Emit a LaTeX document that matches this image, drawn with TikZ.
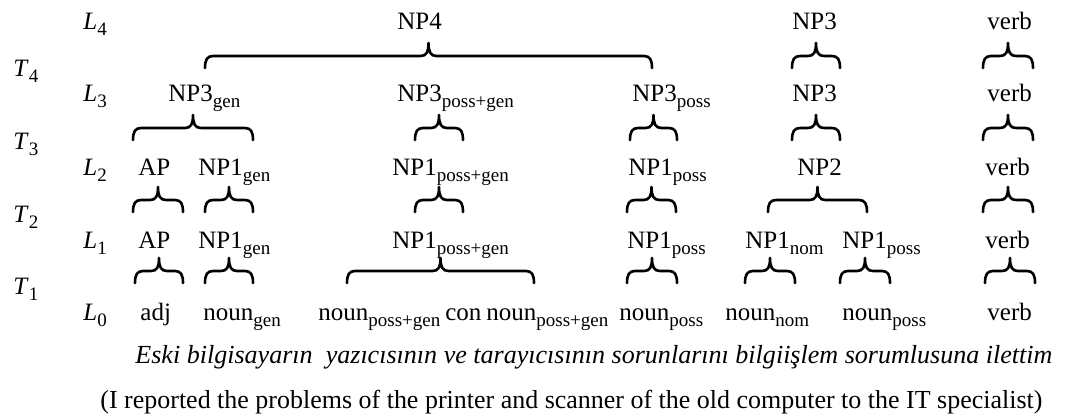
\documentclass[tikz,border=0pt]{standalone}
\usepackage{fontspec}
\setmainfont{Liberation Serif}
% lowered, smaller subscript used for category features
\newcommand{\lsub}[1]{\raisebox{-3pt}{\fontsize{9.5}{11}\selectfont #1}}
% level / transition labels such as L_4, T_1
\newcommand{\lvl}[2]{\textit{#1}\lsub{#2}}
% a brace with ends at height #3, spanning #1..#2, tip pointing up
\newcommand{\brc}[3]{%
  \pgfmathsetmacro\bm{(#1+#2)/2}%
  \draw[brc] (#1,#3) .. controls (#1,#3-8) and (#1+2,#3-12) .. (#1+8,#3-12)
    -- (\bm-8,#3-12) .. controls (\bm-2,#3-12) and (\bm,#3-16) .. (\bm,#3-25)
    .. controls (\bm,#3-16) and (\bm+2,#3-12) .. (\bm+8,#3-12)
    -- (#2-8,#3-12) .. controls (#2-2,#3-12) and (#2,#3-8) .. (#2,#3);}
\begin{document}
\begin{tikzpicture}[x=0.5pt,y=-0.5pt,
  lab/.style={inner sep=0pt, anchor=base west, font=\fontsize{12.5}{14}\selectfont},
  brc/.style={line width=1.3pt, line cap=round, line join=round}]
\useasboundingbox (0,0) rectangle (1070,417);

% level and transition labels
\node[lab] (L4) at (83,30)  {\lvl{L}{4}};
\node[lab] (L3) at (83,102) {\lvl{L}{3}};
\node[lab] (L2) at (83,175) {\lvl{L}{2}};
\node[lab] (L1) at (83,248) {\lvl{L}{1}};
\node[lab] (L0) at (83,320) {\lvl{L}{0}};
\node[lab] (T4) at (13,76)  {\lvl{T}{4}};
\node[lab] (T3) at (13,149) {\lvl{T}{3}};
\node[lab] (T2) at (13,222) {\lvl{T}{2}};
\node[lab] (T1) at (13,294) {\lvl{T}{1}};

% level 4
\node[lab] (a4) at (397,30) {NP4};
\node[lab] (b4) at (792,30) {NP3};
\node[lab] (c4) at (987,30) {verb};

% level 3
\node[lab] (a3) at (168,102) {NP3\lsub{gen}};
\node[lab] (b3) at (397,102) {NP3\lsub{poss+gen}};
\node[lab] (c3) at (632,102) {NP3\lsub{poss}};
\node[lab] (d3) at (792,102) {NP3};
\node[lab] (e3) at (987,102) {verb};

% level 2
\node[lab] (a2) at (138,175) {AP};
\node[lab] (b2) at (198,175) {NP1\lsub{gen}};
\node[lab] (c2) at (392,175) {NP1\lsub{poss+gen}};
\node[lab] (d2) at (628,175) {NP1\lsub{poss}};
\node[lab] (e2) at (797,175) {NP2};
\node[lab] (f2) at (985,175) {verb};

% level 1
\node[lab] (a1) at (138,248) {AP};
\node[lab] (b1) at (198,248) {NP1\lsub{gen}};
\node[lab] (c1) at (392,248) {NP1\lsub{poss+gen}};
\node[lab] (d1) at (627,248) {NP1\lsub{poss}};
\node[lab] (e1) at (745,248) {NP1\lsub{nom}};
\node[lab] (f1) at (842,248) {NP1\lsub{poss}};
\node[lab] (g1) at (985,248) {verb};

% level 0
\node[lab] (a0) at (140,320) {adj};
\node[lab] (b0) at (203,320) {noun\lsub{gen}};
\node[lab] (c0) at (318,320) {noun\lsub{poss+gen}\hspace{0.2em}con\hspace{0.2em}noun\lsub{poss+gen}};
\node[lab] (e0) at (619,320) {noun\lsub{poss}};
\node[lab] (f0) at (725,320) {noun\lsub{nom}};
\node[lab] (g0) at (842,320) {noun\lsub{poss}};
\node[lab] (h0) at (987,320) {verb};

% transition T4
\brc{205}{652}{68}
\brc{792}{840}{68}
\brc{983}{1033}{68}
% transition T3
\brc{133}{253}{140}
\brc{415}{463}{140}
\brc{630}{677}{140}
\brc{792}{840}{140}
\brc{983}{1033}{140}
% transition T2
\brc{133}{183}{212}
\brc{205}{253}{212}
\brc{415}{463}{212}
\brc{627}{676}{212}
\brc{768}{867}{212}
\brc{983}{1033}{212}
% transition T1
\brc{135}{183}{283}
\brc{205}{253}{283}
\brc{347}{534}{283}
\brc{627}{677}{283}
\brc{745}{795}{283}
\brc{840}{890}{283}
\brc{985}{1035}{283}

% sentence and its translation
\node[lab] (tr) at (135,363) {\resizebox{458.5pt}{!}{\itshape Eski bilgisayarın\ \ yazıcısının ve tarayıcısının sorunlarını bilgiişlem sorumlusuna ilettim}};
\node[lab] (en) at (100,408) {\resizebox{471pt}{!}{(I reported the problems of the printer and scanner of the old computer to the IT specialist)}};
\end{tikzpicture}
\end{document}
